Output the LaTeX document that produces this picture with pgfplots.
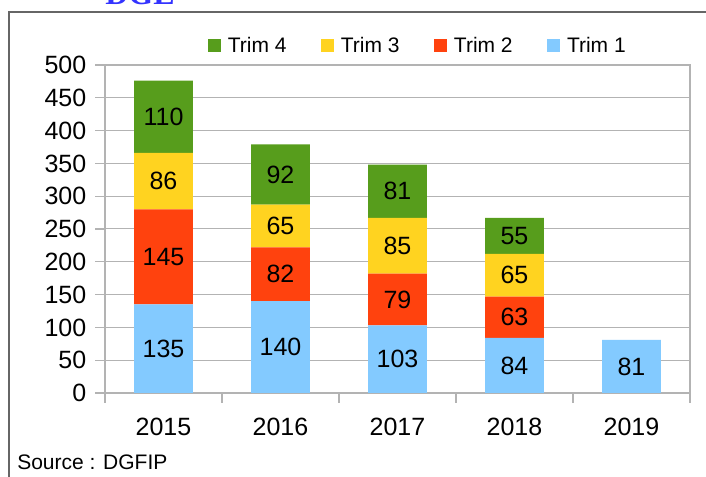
\documentclass[border=0pt]{standalone}
\usepackage{pgfplots}
\pgfplotsset{compat=1.18}
\usepackage{pgfplotstable}
\usepackage{fontspec}
\setmainfont{Liberation Sans}
\newfontfamily\titlefont{Liberation Serif}

\definecolor{trimA}{HTML}{83CAFF}
\definecolor{trimB}{HTML}{FF420E}
\definecolor{trimC}{HTML}{FFD320}
\definecolor{trimD}{HTML}{579D1C}
\definecolor{gridgray}{HTML}{B3B3B3}
\definecolor{framegray}{HTML}{666666}
\definecolor{titleblue}{HTML}{3333FF}

% quarterly values, one row per year (2015..2019)
\pgfplotstableread{
x t1  t2  t3 t4
0 135 145 86 110
1 140 82  65 92
2 103 79  85 81
3 84  63  65 55
4 81  0   0  0
}\trims

\begin{document}
\begin{tikzpicture}
% page = 706 x 477 px at 0.75pt/px, axis box corner at the origin
\useasboundingbox (-78.75pt,-63pt) rectangle (450.75pt,294.75pt);
\clip (-78.75pt,-63pt) rectangle (450.75pt,294.75pt);

\begin{axis}[
  at={(0,0)}, anchor=south west,
  scale only axis, width=438.75pt, height=246pt,
  ybar stacked, bar width=0.504,
  xmin=-0.5, xmax=4.5, ymin=0, ymax=500,
  xtick={-0.5,0.5,...,4.5}, xticklabels={},
  extra x ticks={0,1,2,3,4},
  extra x tick labels={2015,2016,2017,2018,2019},
  extra x tick style={grid=none, major tick length=0pt},
  xticklabel style={yshift=-15pt},
  yticklabel style={xshift=-3pt},
  ytick={0,50,...,500},
  ymajorgrids,
  grid style={gridgray, line width=0.75pt},
  axis line style={gridgray, line width=1pt},
  tick style={gridgray, line width=1pt},
  tick align=outside, major tick length=7.5pt,
  tick pos=left,
  tick label style={font=\fontsize{18.75}{22}\selectfont},
  /pgf/number format/assume math mode=true,
  nodes near coords={\pgfmathfloatifflags{\pgfplotspointmeta}{0}{}{\pgfmathprintnumber{\pgfplotspointmeta}}},
  nodes near coords style={font=\fontsize{18.75}{22}\selectfont, anchor=center, text=black},
  legend style={at={(0.168,1.058)}, anchor=west, draw=none, fill=none,
    font=\fontsize{15.75}{18}\selectfont, legend columns=-1,
    /tikz/every odd column/.append style={column sep=3.5pt},
    /tikz/every even column/.append style={column sep=23.5pt}},
  reverse legend,
  legend image code/.code={\fill[#1] (0pt,-4.875pt) rectangle (9.75pt,4.875pt);},
]
\addplot[fill=trimA, draw=none] table[x=x,y=t1] {\trims};
\addplot[fill=trimB, draw=none] table[x=x,y=t2] {\trims};
\addplot[fill=trimC, draw=none] table[x=x,y=t3] {\trims};
\addplot[fill=trimD, draw=none] table[x=x,y=t4] {\trims};
\legend{Trim 1, Trim 2, Trim 3, Trim 4}
\end{axis}

\node[anchor=base west, inner sep=0pt, text=titleblue,
      font=\titlefont\bfseries\fontsize{24}{28}\selectfont] at (0pt,291pt) {DGE};
\draw[framegray, line width=1pt] (-72pt,-75pt) -- (-72pt,285.75pt) -- (460pt,285.75pt);
\node[anchor=base west, inner sep=0pt, font=\fontsize{15.75}{18}\selectfont]
  at (-66pt,-57.75pt) {Source : DGFIP};
\end{tikzpicture}
\end{document}
